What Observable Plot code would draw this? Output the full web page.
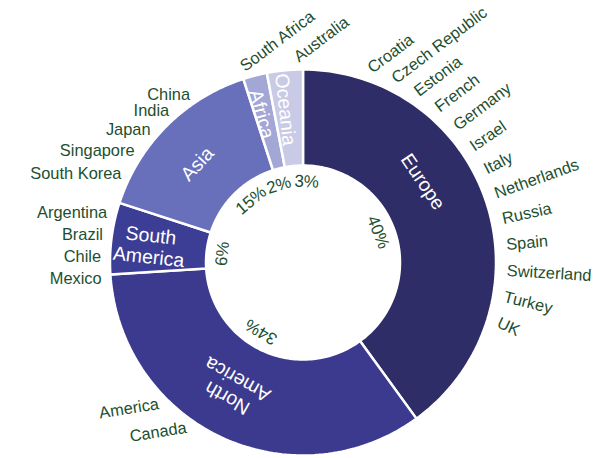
<!DOCTYPE html>
<html>
<head>
<meta charset="utf-8">
<script src="https://cdn.jsdelivr.net/npm/d3@7"></script>
<script src="https://cdn.jsdelivr.net/npm/@observablehq/plot@0.6"></script>
<style>
  html, body { margin: 0; padding: 0; background: #ffffff; }
  #chart { width: 595px; height: 458px; }
</style>
</head>
<body>
<div id="chart"></div>
<script>
// ---- data ----
const regions = ["Europe", "North America", "South America", "Asia", "Africa", "Oceania"];
const regionLabels = ["Europe", "North\nAmerica", "South\nAmerica", "Asia", "Africa", "Oceania"];
const shares = [40, 34, 6, 15, 2, 3];
const countries = [
  ["Croatia", "Czech Republic", "Estonia", "French", "Germany", "Israel", "Italy", "Netherlands", "Russia", "Spain", "Switzerland", "Turkey", "UK"],
  ["America", "Canada"],
  ["Argentina", "Brazil", "Chile", "Mexico"],
  ["China", "India", "Japan", "Singapore", "South Korea"],
  ["South Africa"],
  ["Australia"]
];

// ---- styles / layout ----
const colors = ["#2f2d67", "#3b3a8e", "#3c3d94", "#6870bb", "#a3a7d6", "#c8cae6"];
const textGreen = "#1d4f2f";
const W = 595, H = 458;
const cx = 302.5, cy = 262, rIn = 97, rOut = 193;
const labelShift = [-16, 4, -1, -2, -1, -1];     // degrees, region name placement
const pctShift = [-4, 6, -1, 5, -3, 8];           // degrees, percentage placement
const countryShift = [-9, 15.2, -2.4, -4, -3, 3.4];
const countryStep = [7.33, -10.4, -6.3, -7.5, 0, 0];

function pt(r, deg) {
  const a = deg * Math.PI / 180;
  return [cx + r * Math.sin(a), cy - r * Math.cos(a)];
}

const total = d3.sum(shares);
let acc = 0;
const slices = regions.map((region, i) => {
  const a0 = acc / total * 360;
  acc += shares[i];
  const a1 = acc / total * 360;
  return {region, i, a0, a1, mid: (a0 + a1) / 2, share: shares[i]};
});

// polygon rows for each slice
const polyRows = [];
for (const s of slices) {
  const n = 90;
  for (let k = 0; k <= n; k++) {
    const a = s.a0 + (s.a1 - s.a0) * k / n;
    const [x, y] = pt(rOut, a);
    polyRows.push({region: s.region, x, y});
  }
  for (let k = n; k >= 0; k--) {
    const a = s.a0 + (s.a1 - s.a0) * k / n;
    const [x, y] = pt(rIn, a);
    polyRows.push({region: s.region, x, y});
  }
  const [x, y] = pt(rOut, s.a0);
  polyRows.push({region: s.region, x, y});
}

// region name labels
const nameRows = slices.map(s => {
  const narrow = s.share < 8;
  const a = s.mid + labelShift[s.i];
  const [x, y] = pt(narrow ? 154 : 145, a);
  return {x, y, text: regionLabels[s.i], rotate: narrow ? a - 270 : a};
});

// percentage labels
const pctRows = slices.map(s => {
  const a = s.mid + pctShift[s.i];
  const [x, y] = pt(81, a);
  return {x, y, text: s.share + "%", rotate: a};
});

// country labels
const countryRows = [];
slices.forEach(s => {
  const list = countries[s.i];
  const center = s.mid + countryShift[s.i];
  list.forEach((c, k) => {
    let a = center + countryStep[s.i] * (k - (list.length - 1) / 2);
    let an = ((a % 360) + 360) % 360;
    const right = an < 180 || an > 330;
    let rot;
    if (right) {
      const t = an > 180 ? an - 360 : an;
      const d = t - 90;
      rot = Math.max(-37, Math.min(40, d > 0 ? d * 1.45 : d));
    } else {
      rot = an < 260 ? -9 : 0;
    }
    const [x, y] = pt(right ? 204 : 202, an);
    countryRows.push({x, y, text: c, rotate: rot, anchor: right ? "start" : "end"});
  });
});

const font = "Liberation Sans, Arial, sans-serif";

const chart = Plot.plot({
  width: W,
  height: H,
  margin: 0,
  x: {domain: [0, W], range: [0, W], axis: null},
  y: {domain: [0, H], range: [0, H], axis: null},
  color: {domain: regions, range: colors},
  style: {fontFamily: font, background: "#ffffff"},
  marks: [
    Plot.line(polyRows, {x: "x", y: "y", z: "region", fill: "region", stroke: "#ffffff", strokeWidth: 2.5, strokeLinejoin: "miter"}),
    Plot.text(nameRows, {x: "x", y: "y", text: "text", rotate: "rotate", fill: "#ffffff", fontSize: 19.5, lineHeight: 1.1}),
    Plot.text(pctRows, {x: "x", y: "y", text: "text", rotate: "rotate", fill: textGreen, fontSize: 17}),
    Plot.text(countryRows.filter(d => d.anchor === "start"), {x: "x", y: "y", text: "text", rotate: "rotate", fill: textGreen, fontSize: 16.4, textAnchor: "start"}),
    Plot.text(countryRows.filter(d => d.anchor === "end"), {x: "x", y: "y", text: "text", rotate: "rotate", fill: textGreen, fontSize: 16.4, textAnchor: "end"})
  ]
});
document.getElementById("chart").appendChild(chart);
</script>
</body>
</html>
